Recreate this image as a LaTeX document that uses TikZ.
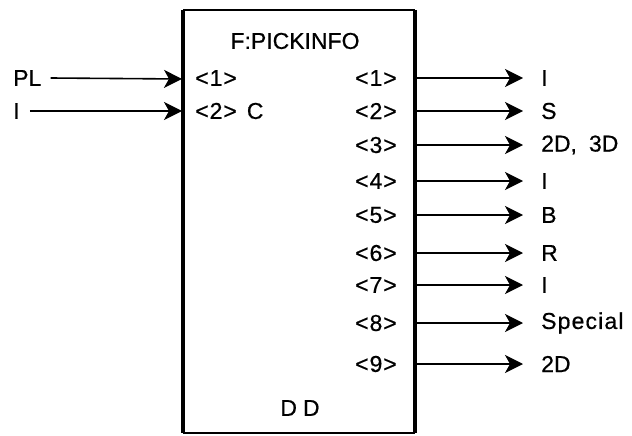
\documentclass[tikz,border=0pt]{standalone}
\usepackage{fontspec}
\setmainfont{Liberation Sans}[FakeBold=0.6]
\usetikzlibrary{arrows.meta}
\tikzset{
  lbl/.style={inner sep=0pt, font=\fontsize{23}{26}\selectfont},
  sig/.style={line width=1.6pt, -{Stealth[length=18pt,width=18pt,inset=5pt]}},
}
\begin{document}
\begin{tikzpicture}[x=1pt,y=-1pt]
\useasboundingbox (0,0) rectangle (632,436);
% box
\coordinate (tl) at (183,10);
\coordinate (tr) at (415,10);
\coordinate (bl) at (183,433);
\coordinate (br) at (415,433);
\draw[line width=2.4pt] (tl) -- (tr);
\draw[line width=2.4pt] (bl) -- (br);
\draw[line width=3.8pt] (tl) -- (bl);
\draw[line width=3.8pt] (tr) -- (br);
\node[lbl] (title) at (295,41) {F:PICKINFO};
\node[lbl] (dd) at (300,408) {D\hspace{6pt}D};
% inputs
\node[lbl,anchor=west] (pl) at (13,78) {PL};
\node[lbl,anchor=west] (iin) at (13,111) {I};
\coordinate (in1) at (182,79);
\coordinate (in2) at (182,111);
\draw[sig] (pl.east) ++(9,0) coordinate (pls) -- (in1);
\draw[sig] (iin.east) ++(10,0) coordinate (is) -- (in2);
\node[lbl,anchor=west] (p1) at (195,78) {<\hspace{1pt}1\hspace{1pt}>};
\node[lbl,anchor=west] (p2) at (195,111) {<\hspace{1pt}2\hspace{1pt}>\hspace{10pt}C};
% outputs
\foreach \k/\y/\t [count=\i] in {1/78/I,2/111/S,3/145/{2D,\hspace{12pt}3D},4/181/I,5/215/B,6/253/R,7/285/I,8/323/{\addfontfeatures{LetterSpace=5}Special},9/364/2D}{
  \node[lbl,anchor=east] (o\i) at (397,\y) {<\hspace{1pt}\k\hspace{1pt}>};
  \coordinate (os\i) at (416,\y);
  \coordinate (oe\i) at (523,\y);
  \node[lbl,anchor=west] (t\i) at (541,\y) {\t};
  \draw[sig] (os\i) -- (oe\i);
}
\end{tikzpicture}
\end{document}
